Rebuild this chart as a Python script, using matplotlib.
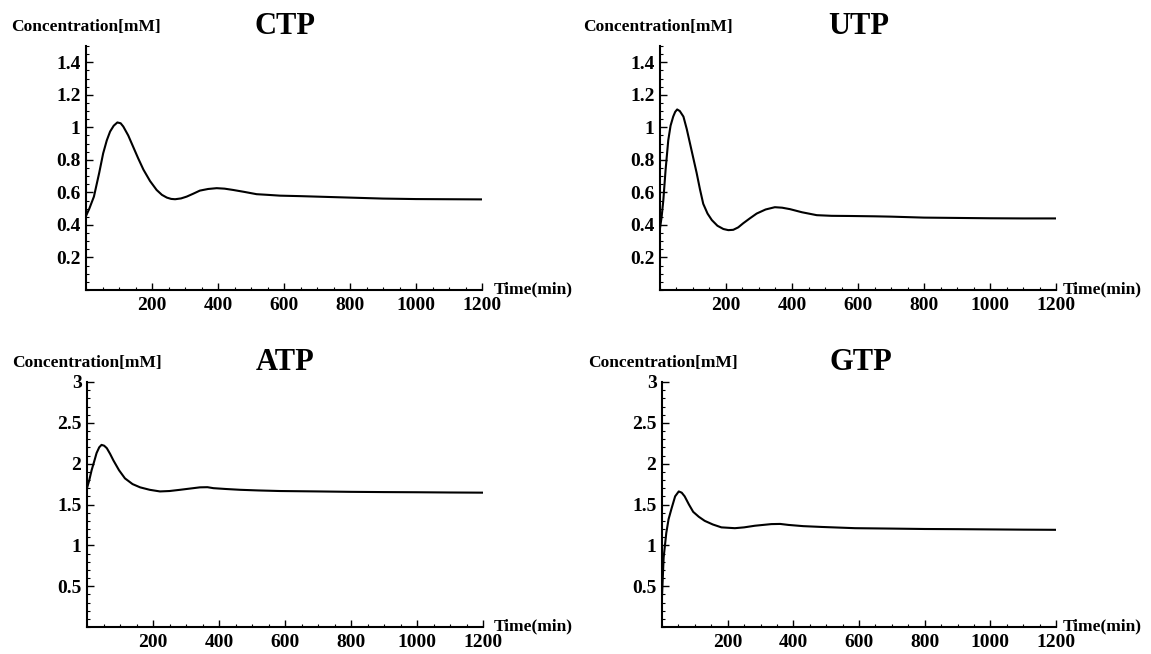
import matplotlib
matplotlib.use("Agg")
import matplotlib.pyplot as plt
from matplotlib.ticker import MultipleLocator, FixedLocator

plt.rcParams['font.family'] = ['Liberation Serif', 'DejaVu Serif']
plt.rcParams['font.weight'] = 'bold'

# simulated nucleotide concentrations (mM) against time (min)
t_ctp = [0, 10, 24, 40, 52, 63, 73, 84, 95, 105, 113, 128, 143, 158, 174, 194, 214, 230,
         245, 258, 270, 288, 305, 325, 345, 370, 396, 420, 446, 480, 517, 550, 588, 650,
         700, 800, 900, 1000, 1100, 1200]
ctp = [0.455, 0.50, 0.574, 0.72, 0.84, 0.92, 0.974, 1.01, 1.03, 1.025, 1.005, 0.95, 0.88,
       0.81, 0.74, 0.67, 0.615, 0.585, 0.568, 0.56, 0.558, 0.563, 0.574, 0.592, 0.611,
       0.621, 0.626, 0.623, 0.615, 0.603, 0.589, 0.585, 0.58, 0.577, 0.574, 0.568, 0.562,
       0.559, 0.558, 0.557]

t_utp = [0, 5, 10, 17, 25, 32, 40, 46, 52, 60, 71, 81, 91, 101, 111, 121, 131, 144, 157,
         174, 192, 207, 222, 237, 252, 272, 293, 320, 348, 370, 394, 430, 475, 520, 576,
         650, 700, 800, 900, 1000, 1100, 1200]
utp = [0.38, 0.45, 0.55, 0.74, 0.92, 1.01, 1.066, 1.095, 1.11, 1.10, 1.066, 0.99, 0.90,
       0.81, 0.72, 0.62, 0.53, 0.47, 0.43, 0.395, 0.375, 0.368, 0.37, 0.385, 0.41, 0.44,
       0.47, 0.495, 0.509, 0.506, 0.497, 0.478, 0.46, 0.456, 0.455, 0.453, 0.451, 0.445,
       0.443, 0.441, 0.44, 0.44]

t_atp = [0, 7, 14, 22, 29, 37, 44, 52, 60, 70, 80, 97, 115, 138, 161, 190, 221, 250, 282,
         312, 342, 365, 383, 420, 464, 520, 585, 700, 800, 900, 1000, 1100, 1200]
atp = [1.70, 1.80, 1.92, 2.03, 2.13, 2.20, 2.23, 2.22, 2.19, 2.12, 2.04, 1.92, 1.82, 1.75,
       1.71, 1.68, 1.66, 1.665, 1.68, 1.695, 1.71, 1.712, 1.70, 1.69, 1.68, 1.672, 1.665,
       1.66, 1.655, 1.652, 1.65, 1.647, 1.645]

t_gtp = [0, 5, 13, 20, 29, 40, 51, 60, 69, 82, 95, 112, 130, 155, 181, 222, 250, 283, 333,
         360, 385, 430, 487, 588, 700, 800, 900, 1000, 1100, 1200]
gtp = [0.38, 0.85, 1.15, 1.32, 1.45, 1.60, 1.66, 1.645, 1.60, 1.50, 1.41, 1.35, 1.30,
       1.255, 1.22, 1.21, 1.22, 1.24, 1.26, 1.262, 1.25, 1.235, 1.225, 1.21, 1.205, 1.20,
       1.198, 1.195, 1.192, 1.19]

W, H = 1151, 654
fig = plt.figure(figsize=(W / 100, H / 100), dpi=100)


def px_axes(x0, x1, ytop, ybot):
    return fig.add_axes([x0 / W, (H - ybot) / H, (x1 - x0) / W, (ybot - ytop) / H])


def px_text(x, y, s, **kw):
    fig.text(x / W, 1 - y / H, s, **kw)


panels = [
    # name, t, values, ymax, ymajor, yminor, axes box, text anchors
    ("CTP", t_ctp, ctp, 1.5, 0.2, 0.05, (86, 482, 46, 290), (11, 27, 285, 494)),
    ("UTP", t_utp, utp, 1.5, 0.2, 0.05, (660, 1056, 46, 290), (583, 27, 859, 1063)),
    ("ATP", t_atp, atp, 3.0, 0.5, 0.1, (87, 483, 382, 627), (12, 363, 285, 494)),
    ("GTP", t_gtp, gtp, 3.0, 0.5, 0.1, (662, 1056, 382, 627), (588, 363, 861, 1063)),
]

for name, t, v, ymax, ymaj, ymin, box, anchors in panels:
    ax = px_axes(*box)
    ax.plot(t, v, color='black', lw=1.5)
    ax.set_xlim(0, 1200)
    ax.set_ylim(0, ymax)
    for s in ('top', 'right'):
        ax.spines[s].set_visible(False)
    for s in ('left', 'bottom'):
        ax.spines[s].set_linewidth(1.5)
    ax.xaxis.set_major_locator(FixedLocator([200, 400, 600, 800, 1000, 1200]))
    ax.xaxis.set_minor_locator(MultipleLocator(50))
    yt = [round(ymaj * k, 2) for k in range(1, int(round(ymax / ymaj)) + 1)]
    if ymax == 1.5:
        yt = [y for y in yt if y <= 1.4]
    ax.yaxis.set_major_locator(FixedLocator(yt))
    ax.yaxis.set_minor_locator(MultipleLocator(ymin))
    ax.set_yticklabels(['%g' % y for y in yt])
    ax.tick_params(which='major', direction='in', length=5, width=1.0,
                   labelsize=14, pad=5)
    ax.tick_params(which='minor', direction='in', length=2.5, width=0.8)
    ax.tick_params(axis='y', which='major', pad=4)
    ax.patch.set_visible(False)

    cx, cy, tx, lx = anchors
    px_text(cx, cy, "Concentration[mM]", fontsize=12.5, fontweight='bold',
            ha='left', va='center')
    px_text(tx, cy, name, fontsize=22, fontweight='bold', ha='center', va='center')
    px_text(lx, box[3] - 1, "Time(min)", fontsize=12.5, fontweight='bold',
            ha='left', va='center')

fig.savefig("out.png", dpi=100, facecolor='white')
